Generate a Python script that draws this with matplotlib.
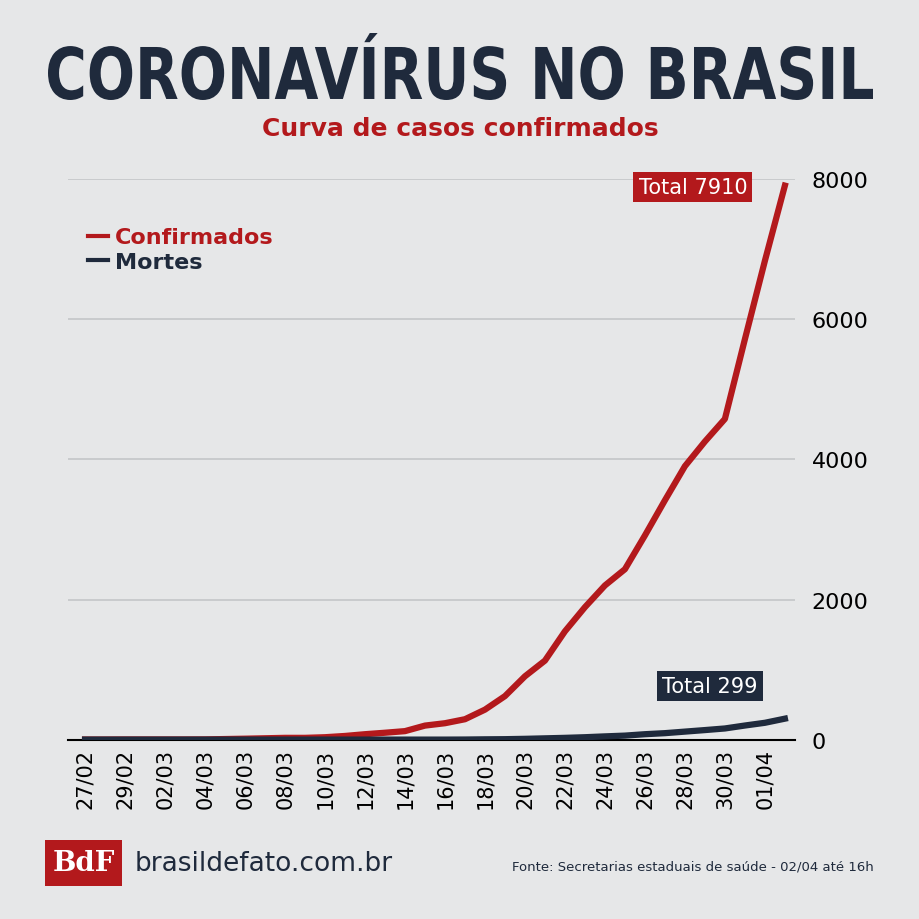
import matplotlib.pyplot as plt
import matplotlib.patches as mpatches
from matplotlib.textpath import TextPath
from matplotlib.font_manager import FontProperties
from matplotlib.transforms import Affine2D, IdentityTransform

dias = ['27/02', '28/02', '29/02', '01/03', '02/03', '03/03', '04/03', '05/03', '06/03', '07/03',
        '08/03', '09/03', '10/03', '11/03', '12/03', '13/03', '14/03', '15/03', '16/03', '17/03',
        '18/03', '19/03', '20/03', '21/03', '22/03', '23/03', '24/03', '25/03', '26/03', '27/03',
        '28/03', '29/03', '30/03', '31/03', '01/04', '02/04']
confirmados = [1, 1, 2, 2, 2, 2, 3, 8, 13, 19, 25, 25, 34, 52, 77, 98, 121, 200, 234, 291,
               428, 621, 904, 1128, 1546, 1891, 2201, 2433, 2915, 3417, 3904, 4256, 4579, 5717, 6836, 7910]
mortes = [0, 0, 0, 0, 0, 0, 0, 0, 0, 0, 0, 0, 0, 0, 0, 0, 0, 0, 0, 1,
          4, 6, 11, 18, 25, 34, 46, 57, 77, 92, 114, 136, 159, 201, 240, 299]

bg = '#e6e7e8'
red = '#b3191c'
navy = '#1f2a3c'


def squeezed_text(fig, s, x0, x1, y0, y1, color, weight='bold'):
    # draw text stretched to fill the pixel box (x0..x1, y0..y1 from bottom-left)
    tp = TextPath((0, 0), s, size=1, prop=FontProperties(family='DejaVu Sans', weight=weight))
    ext = tp.get_extents()
    tr = (Affine2D().translate(-ext.x0, -ext.y0)
          .scale((x1 - x0) / ext.width, (y1 - y0) / ext.height).translate(x0, y0))
    fig.patches.append(mpatches.PathPatch(tr.transform_path(tp), transform=IdentityTransform(),
                                          fc=color, ec='none'))


fig = plt.figure(figsize=(9.2, 9.2), dpi=100, facecolor=bg)
ax = fig.add_axes([0.074, 0.195, 0.79, 0.609], facecolor=bg)

x = list(range(len(dias)))
ax.plot(x, confirmados, color=red, lw=4.5, label='Confirmados', zorder=3)
ax.plot(x, mortes, color=navy, lw=4.5, label='Mortes', zorder=4)

ax.set_xlim(-0.85, 35.5)
ax.set_ylim(0, 8000)
ax.yaxis.tick_right()
ax.set_yticks([0, 2000, 4000, 6000, 8000])
ax.tick_params(axis='y', length=0, labelsize=16, pad=12)
ax.set_xticks(x[::2])
ax.set_xticklabels(dias[::2], rotation=90, fontsize=15)
ax.tick_params(axis='x', length=0, pad=6)
ax.grid(axis='y', color='#c4c6c8', lw=1.2, zorder=0)
for s in ['top', 'right', 'left']:
    ax.spines[s].set_visible(False)
ax.spines['bottom'].set_color('black')
ax.spines['bottom'].set_linewidth(1.5)

ax.text(x[-1] - 4.6, confirmados[-1] - 20, 'Total 7910', color='white', fontsize=15,
        ha='center', va='center', bbox=dict(boxstyle='square,pad=0.25', fc=red, ec='none'))
ax.text(x[-1] - 3.75, mortes[-1] + 470, 'Total 299', color='white', fontsize=15,
        ha='center', va='center', bbox=dict(boxstyle='square,pad=0.25', fc=navy, ec='none'))

leg = ax.legend(loc='upper left', bbox_to_anchor=(0.0, 0.95), frameon=False, handlelength=0.9,
                handletextpad=0.3, prop={'size': 16, 'weight': 'bold'}, labelspacing=0.2)
leg.get_texts()[0].set_color(red)
leg.get_texts()[1].set_color(navy)
for h in leg.get_lines():
    h.set_linewidth(3)

squeezed_text(fig, 'CORONAVÍRUS NO BRASIL', 48, 873, 819, 886, navy)
fig.text(0.5, 0.86, 'Curva de casos confirmados', ha='center', va='center', fontsize=18,
         fontweight='bold', color=red)

fig.patches.append(mpatches.Rectangle((0.049, 0.036), 0.084, 0.05, transform=fig.transFigure,
                                      fc=red, ec='none'))
fig.text(0.091, 0.061, 'BdF', ha='center', va='center', fontsize=20, fontweight='bold',
         color='white', family='DejaVu Serif')
fig.text(0.146, 0.061, 'brasildefato.com.br', ha='left', va='center', fontsize=19, color=navy)
fig.text(0.95, 0.058, 'Fonte: Secretarias estaduais de saúde - 02/04 até 16h', ha='right',
         va='center', fontsize=9.5, color=navy)

fig.savefig('out.png', dpi=100, facecolor=bg)
